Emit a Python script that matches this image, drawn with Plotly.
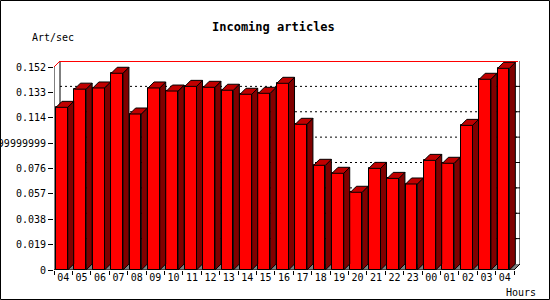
import plotly.graph_objects as go

# ---- data ----
hours = ["04", "05", "06", "07", "08", "09", "10", "11", "12", "13", "14", "15", "16",
         "17", "18", "19", "20", "21", "22", "23", "00", "01", "02", "03", "04"]
art_per_sec = [0.1218, 0.1354, 0.1363, 0.1473, 0.1168, 0.1363, 0.1340, 0.1375, 0.1368,
               0.1346, 0.1316, 0.1323, 0.1398, 0.1091, 0.0784, 0.0724, 0.0582, 0.0761,
               0.0686, 0.0644, 0.0821, 0.0799, 0.1083, 0.1428, 0.1510]
y_tick_vals = [0, 0.019, 0.038, 0.057, 0.076, 0.095, 0.114, 0.133, 0.152]
y_tick_text = ["0", "0.019", "0.038", "0.057", "0.076", "0.09499999999999999",
               "0.114", "0.133", "0.152"]

# ---- geometry (pixel mapping) ----
W, H = 550, 300
L, R, T, B = 54, 520, 61, 270          # plot area in px
PX_X = 18.4                              # px per category
PX_Y = 1335.5                            # px per unit value
DEPTH = 6                                # 3D depth in px
dx = DEPTH / PX_X
dy = DEPTH / PX_Y
xmin = -0.5
xmax = xmin + (R - L) / PX_X
ymax = (B - T) / PX_Y
n = len(hours)
bw = 0.636
boff = -0.39

FONT = "DejaVu Sans Mono"

def px2paper(px, py):
    return (px - L) / (R - L), (B - py) / (B - T)

fig = go.Figure()

# front faces
fig.add_trace(go.Bar(
    x=list(range(n)), y=art_per_sec, width=bw, offset=boff,
    marker=dict(color="#FF0000", line=dict(color="black", width=1)),
    hoverinfo="skip"))

# side and top faces
sx, sy = [], []
tx, ty = [], []
for i, v in enumerate(art_per_sec):
    xl = i + boff
    xr = xl + bw
    sx += [xr, xr + dx, xr + dx, xr, xr, None]
    sy += [0, dy, v + dy, v, 0, None]
    tx += [xl, xl + dx, xr + dx, xr, xl, None]
    ty += [v, v + dy, v + dy, v, v, None]
fig.add_trace(go.Scatter(x=sx, y=sy, mode="lines", fill="toself",
                         fillcolor="#800000", line=dict(color="black", width=1),
                         hoverinfo="skip"))
fig.add_trace(go.Scatter(x=tx, y=ty, mode="lines", fill="toself",
                         fillcolor="#C00000", line=dict(color="black", width=1),
                         hoverinfo="skip"))

shapes = []
xbl, xbr = -0.5 + dx, (n - 0.5) + dx    # back wall left/right
# floor
shapes.append(dict(type="path", layer="below", xref="x", yref="y",
                   path=f"M {-0.5} 0 L {n-0.5} 0 L {xbr} {dy} L {xbl} {dy} Z",
                   fillcolor="#808080", line=dict(width=0)))
# gridlines on back wall
for v in y_tick_vals[1:-1]:
    shapes.append(dict(type="line", layer="below", xref="x", yref="y",
                       x0=xbl, x1=xbr, y0=v + dy, y1=v + dy,
                       line=dict(color="black", width=1, dash="2px,3px")))
    shapes.append(dict(type="line", layer="below", xref="x", yref="y",
                       x0=xbr - 4 / PX_X, x1=xbr, y0=v + dy, y1=v + dy,
                       line=dict(color="black", width=1)))
top = y_tick_vals[-1]
# back wall left & right edges
shapes.append(dict(type="line", layer="below", xref="x", yref="y",
                   x0=xbl, x1=xbl, y0=dy, y1=top + dy, line=dict(color="black", width=1)))
shapes.append(dict(type="line", layer="below", xref="x", yref="y",
                   x0=xbr, x1=xbr, y0=dy, y1=top + dy, line=dict(color="black", width=1)))
shapes.append(dict(type="line", layer="below", xref="x", yref="y",
                   x0=n - 0.5, x1=xbr, y0=0, y1=dy, line=dict(color="black", width=1)))
# top edges (black + red)
shapes.append(dict(type="line", layer="below", xref="x", yref="y",
                   x0=xbl, x1=xbr, y0=top + dy + 0.5 / PX_Y, y1=top + dy + 0.5 / PX_Y,
                   line=dict(color="black", width=1)))
shapes.append(dict(type="line", layer="below", xref="x", yref="y",
                   x0=xbl, x1=xbr - 2 / PX_X, y0=top + dy - 0.5 / PX_Y, y1=top + dy - 0.5 / PX_Y,
                   line=dict(color="#FF0000", width=1)))
shapes.append(dict(type="line", layer="below", xref="x", yref="y",
                   x0=-0.5, x1=xbl, y0=top, y1=top + dy,
                   line=dict(color="#FF0000", width=1)))
# front y axis line and x axis line
shapes.append(dict(type="line", layer="above", xref="x", yref="y",
                   x0=-0.5, x1=-0.5, y0=0, y1=top, line=dict(color="black", width=1)))
shapes.append(dict(type="line", layer="above", xref="x", yref="y",
                   x0=-0.5, x1=n - 0.5, y0=0, y1=0, line=dict(color="black", width=1)))
# outer border
bx0, by0 = px2paper(0.5, H - 0.5)
bx1, by1 = px2paper(W - 0.5, 0.5)
shapes.append(dict(type="rect", xref="paper", yref="paper", x0=bx0, y0=by0, x1=bx1, y1=by1,
                   line=dict(color="black", width=1), layer="above"))

annotations = []
def ann(text, px, py, size=10, bold=False, xanchor="center"):
    ax, ay = px2paper(px, py)
    annotations.append(dict(text=f"<b>{text}</b>" if bold else text, x=ax, y=ay,
                            xref="paper", yref="paper", showarrow=False,
                            xanchor=xanchor, yanchor="middle",
                            font=dict(family=FONT, size=size, color="black")))
ann("Incoming articles", 273, 27, size=12, bold=True)
ann("Art/sec", 30, 37, xanchor="left")
ann("Hours", 504, 292, xanchor="left")

fig.update_layout(
    width=W, height=H,
    margin=dict(l=L, r=W - R, t=T, b=H - B, pad=0, autoexpand=False),
    paper_bgcolor="white", plot_bgcolor="white",
    showlegend=False, bargap=0,
    font=dict(family=FONT, size=10, color="black"),
    shapes=shapes, annotations=annotations,
    xaxis=dict(range=[xmin, xmax], showgrid=False, zeroline=False, showline=False,
               automargin=False,
               tickmode="array", tickvals=list(range(n)), ticktext=hours,
               ticks="", ticklen=0,
               minor=dict(ticks="outside", ticklen=4, tickcolor="black", tick0=-0.5,
                          dtick=1, showgrid=False),
               tickfont=dict(family=FONT, size=10, color="black")),
    yaxis=dict(range=[0, ymax], showgrid=False, zeroline=False, showline=False,
               automargin=False,
               tickmode="array", tickvals=y_tick_vals, ticktext=y_tick_text,
               ticks="outside", ticklen=5, tickcolor="black",
               tickfont=dict(family=FONT, size=10, color="black")),
)

fig.write_html("out.html")
